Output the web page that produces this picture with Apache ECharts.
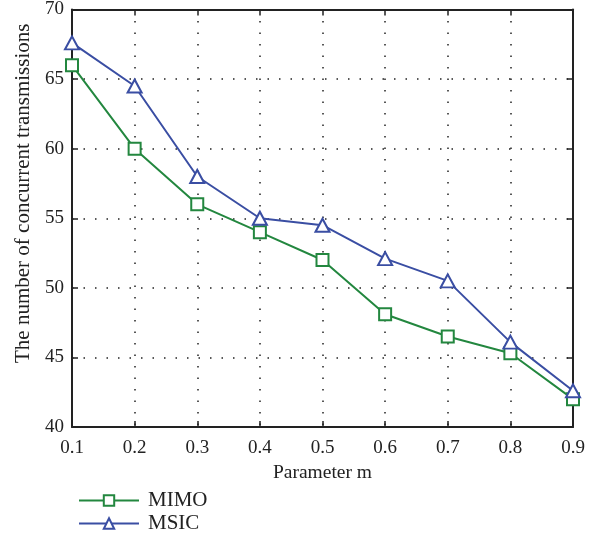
<!DOCTYPE html>
<html>
<head>
<meta charset="utf-8">
<script src="https://cdn.jsdelivr.net/npm/echarts@6/dist/echarts.min.js"></script>
<style>html,body{margin:0;padding:0;background:#fff;}#c{width:601px;height:542px;}</style>
</head>
<body>
<div id="c"></div>
<script>
const categories = ['0.1','0.2','0.3','0.4','0.5','0.6','0.7','0.8','0.9'];
const mimo = [66, 60, 56, 54, 52, 48.1, 46.5, 45.3, 42];
const msic = [67.6, 64.5, 58, 55, 54.5, 52.1, 50.5, 46.1, 42.6];
const seriesNames = ['MIMO', 'MSIC'];
const xAxisName = 'Parameter m';
const yAxisName = 'The number of concurrent transmissions';

const FONT = 'Liberation Serif';
const GREEN = '#23873f';
const BLUE = '#3a4ea3';
const chart = echarts.init(document.getElementById('c'));
const gridLine = {show: true, lineStyle: {color: '#222', width: 1.5, type: [1.5, 10]}};
chart.setOption({
  animation: false,
  grid: {left: 72, right: 28, top: 9, bottom: 115, containLabel: false},
  legend: {
    orient: 'vertical', left: 73, top: 485, itemWidth: 60, itemHeight: 13, itemGap: 2,
    height: 60,
    textStyle: {fontFamily: FONT, fontSize: 21, color: '#222', padding: [0, 0, 0, 4]},
    data: seriesNames
  },
  xAxis: [{
    type: 'category', data: categories, boundaryGap: false,
    name: xAxisName, nameLocation: 'middle', nameGap: 32,
    nameTextStyle: {fontFamily: FONT, fontSize: 19.5, color: '#222'},
    axisLine: {lineStyle: {color: '#222', width: 2}},
    axisTick: {inside: true, length: 6, lineStyle: {color: '#222', width: 1.5}},
    axisLabel: {fontFamily: FONT, fontSize: 19, color: '#222', margin: 12},
    splitLine: gridLine
  }, {
    type: 'category', data: categories, boundaryGap: false, position: 'top',
    axisLine: {lineStyle: {color: '#222', width: 2}},
    axisTick: {inside: true, length: 6, lineStyle: {color: '#222', width: 1.5}},
    axisLabel: {show: false}, splitLine: {show: false}
  }],
  yAxis: [{
    type: 'value', min: 40, max: 70, interval: 5,
    name: yAxisName, nameLocation: 'middle', nameGap: 36,
    nameTextStyle: {fontFamily: FONT, fontSize: 21, color: '#222', padding: [0, 0, 0, 50]},
    axisLine: {show: true, lineStyle: {color: '#222', width: 2}},
    axisTick: {show: true, inside: true, length: 6, lineStyle: {color: '#222', width: 1.5}},
    axisLabel: {fontFamily: FONT, fontSize: 19, color: '#222', margin: 8},
    splitLine: gridLine
  }, {
    type: 'value', min: 40, max: 70, interval: 5, position: 'right',
    axisLine: {show: true, lineStyle: {color: '#222', width: 2}},
    axisTick: {show: true, inside: true, length: 6, lineStyle: {color: '#222', width: 1.5}},
    axisLabel: {show: false}, splitLine: {show: false}
  }],
  series: [{
    name: seriesNames[0], type: 'line', data: mimo,
    symbol: 'rect', symbolSize: 12,
    lineStyle: {color: GREEN, width: 2},
    itemStyle: {color: '#fff', borderColor: GREEN, borderWidth: 2}
  }, {
    name: seriesNames[1], type: 'line', data: msic,
    symbol: 'triangle', symbolSize: [14, 13],
    lineStyle: {color: BLUE, width: 2},
    itemStyle: {color: '#fff', borderColor: BLUE, borderWidth: 2}
  }]
});
</script>
</body>
</html>
